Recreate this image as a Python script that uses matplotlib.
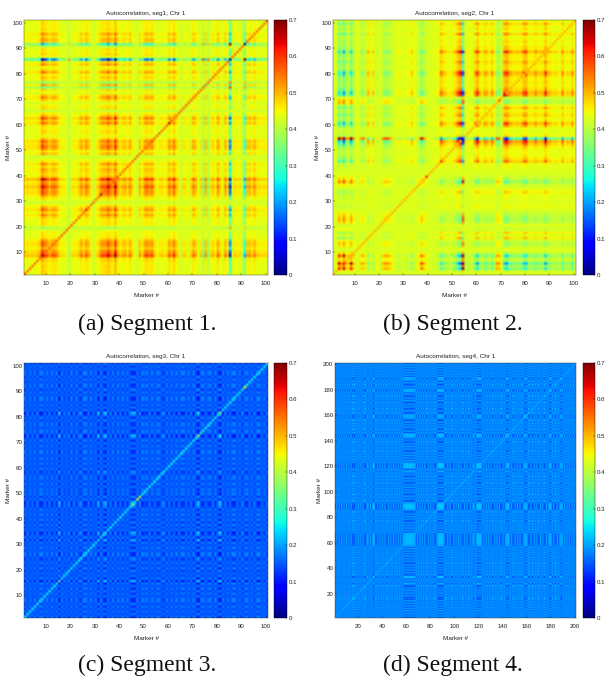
import matplotlib
matplotlib.use("Agg")
import matplotlib.pyplot as plt
import numpy as np

# Per-marker loading; cell = base + a_i * a_j, diagonal read separately
profile_a = [
 .12,.14,.12,.14,.12,.16,.2,.52,.38,.32,.2,.3,.32,.26,.12,.1,.1,.04,-.12,.1,
 .12,.1,.16,.28,.16,.32,.22,.1,-.04,.1,.16,.3,.34,.32,.48,.34,.26,.55,.22,.14,
 .2,.22,.14,.28,.12,.05,-.03,.22,.12,.3,.34,.26,.34,.16,.05,.12,.14,.1,.12,.32,
 .2,.38,.18,.1,-.04,.14,.1,.02,.14,.28,.18,.04,.14,-.2,.22,-.15,.12,.18,.1,.3,
 .14,.06,.26,.14,-.8,.03,.14,.1,.12,-.04,-.45,.2,.22,.14,.26,.12,.12,.1,.12,.1]
profile_b = [
 .02,-.06,-.42,-.2,-.55,-.14,-.14,-.46,-.14,.0,.0,-.12,-.16,-.06,.18,.0,.14,-.04,-.04,.03,
 -.12,-.2,-.18,-.12,-.06,.0,.05,.06,.0,.03,.05,.05,.15,.05,-.03,-.08,-.3,-.14,-.05,.0,
 .0,.03,.05,.06,.32,.18,.12,.08,.08,.12,.2,.38,.5,-.75,.12,.05,.05,.05,.26,.42,
 .16,.1,.24,.18,.1,.26,.1,-.2,-.16,-.04,.36,.45,.26,.2,.14,.18,.16,.18,.36,.4,
 .16,.14,.16,.26,.14,.16,.18,.44,.18,.16,.1,.14,.1,.08,.28,.08,.14,.1,.26,.08]
profile_c = [
 .14,-.1,.12,-.06,.15,-.12,.16,.18,-.08,.14,-.1,.18,-.06,.18,-.34,.18,-.1,.06,-.14,.18,
 -.12,.14,-.08,-.16,.18,.18,-.1,.18,-.06,.14,-.3,.18,-.12,-.3,.14,-.1,.18,-.14,.18,-.08,
 .18,-.06,.14,-.12,-.22,-.24,.14,-.14,.18,.06,.14,-.1,.18,-.06,.12,.14,-.08,-.16,.18,-.1,
 .14,-.06,.18,-.08,.12,.18,-.06,.14,-.1,.18,-.08,-.34,.1,.18,-.06,.12,.14,-.12,.18,-.12,
 -.34,.18,-.1,.14,-.06,.18,.18,-.08,.14,-.16,.1,.18,-.08,.12,-.12,.14,.18,-.06,.12,-.08]
profile_d = [
 .12,-.08,.15,-.1,.16,-.13,.12,-.06,.15,-.1,.16,-.06,.14,-.1,.15,.12,.17,-.08,.14,-.1,
 .16,-.1,.14,-.06,.15,.17,-.1,-.12,.14,-.1,.16,-.16,-.22,.12,.15,-.08,.17,-.1,.14,-.06,
 .16,-.1,.14,.17,-.1,.15,-.08,.17,-.12,.14,-.06,.17,-.1,.15,-.08,.16,-.12,-.14,-.18,-.2,
 -.19,-.15,-.2,-.18,-.14,-.17,-.12,.16,-.1,.17,-.12,.15,-.08,.17,-.1,.14,.17,-.08,.15,-.1,
 .17,-.1,.14,.17,-.08,-.14,-.24,-.2,-.26,-.15,-.1,.17,.14,-.08,.16,-.12,.15,.17,-.1,.14,
 -.08,.16,-.12,.15,-.1,.17,.14,-.08,.16,-.1,.14,.17,-.08,.14,-.1,-.12,.16,-.14,-.2,-.18,
 -.22,-.14,.14,-.1,.17,-.12,.15,-.08,.16,-.1,.17,.14,-.08,.15,-.12,.16,-.1,.17,.14,-.06,
 .15,-.1,-.12,-.22,-.12,.16,-.1,.14,.17,-.1,.15,-.08,.16,-.12,.14,.17,-.08,-.12,-.16,-.1,
 .15,.17,-.1,.14,.17,-.1,.15,-.08,.16,.17,-.12,.14,-.08,.16,.17,-.1,.14,-.12,-.18,-.12,
 .16,-.1,.15,.17,-.12,.14,-.08,-.12,-.2,.16,-.1,.15,-.08,.14,-.1,.14,-.08,.12,-.1,.1]
base_a, base_b, base_c, base_d = 0.425, 0.43, 0.15, 0.18
diag_a, diag_b, diag_c, diag_d = 0.55, 0.50, 0.25, 0.22
peaks_a = {8: .68, 32: .66, 35: .66, 26: .62, 53: .6, 60: .66, 85: .0, 91: .02}
peaks_b = {3: .62, 5: .62, 45: .6, 54: .05, 71: .65, 39: .6, 69: .58}
peaks_c = {91: .43, 47: .42, 48: .41, 72: .38, 45: .34, 15: .34, 81: .34}
peaks_d = {}

titles = ["Autocorrelation, seg1, Chr 1", "Autocorrelation, seg2, Chr 1",
          "Autocorrelation, seg3, Chr 1", "Autocorrelation, seg4, Chr 1"]
captions = ["(a) Segment 1.", "(b) Segment 2.", "(c) Segment 3.", "(d) Segment 4."]
ticks_100 = list(range(10, 101, 10))
ticks_200 = list(range(20, 201, 20))
cbar_ticks = [0, .1, .2, .3, .4, .5, .6, .7]
cbar_labels = ["0", "0.1", "0.2", "0.3", "0.4", "0.5", "0.6", "0.7"]

W, H = 614, 687
plt.rcParams['font.family'] = ['Liberation Sans', 'DejaVu Sans']
fig = plt.figure(figsize=(W/100, H/100), dpi=100)

def box(x0, y0, x1, y1):
    return [x0/W, 1-y1/H, (x1-x0)/W, (y1-y0)/H]

def panel(rect, crect, prof, base, diag, peaks, ticks, title, caption, cx, cy):
    a = np.array(prof)
    n = len(a)
    m = base + np.outer(a, a)
    m[np.arange(n), np.arange(n)] = diag
    for k, v in peaks.items():
        m[k-1, k-1] = v
    ax = fig.add_axes(box(*rect))
    im = ax.imshow(m, origin='lower', extent=(1, n+1, 1, n+1), aspect='auto',
                   cmap='jet', vmin=0, vmax=.7, interpolation='bilinear')
    ax.set_xticks(ticks); ax.set_yticks(ticks)
    ax.tick_params(direction='in', length=1.5, width=.3, labelsize=4.4, colors='#222222')
    ax.tick_params(axis='x', pad=4.2)
    ax.tick_params(axis='y', pad=1.2)
    for s in ax.spines.values():
        s.set_linewidth(.3); s.set_color('#333333')
    ax.set_title(title, fontsize=4.6, pad=3.5, color='#222222')
    ax.set_xlabel("Marker #", fontsize=4.6, color='#222222')
    ax.set_ylabel("Marker #", fontsize=4.6, color='#222222')
    ax.xaxis.set_label_coords(.5, -18/255)
    ax.yaxis.set_label_coords(-13/244, .5)
    cax = fig.add_axes(box(*crect))
    cb = fig.colorbar(im, cax=cax)
    cb.set_ticks(cbar_ticks, labels=cbar_labels)
    cb.ax.tick_params(direction='in', length=1.5, width=.3, labelsize=4.4, pad=1, colors='#222222')
    cb.outline.set_linewidth(.3)
    fig.text(cx/W, 1-cy/H, caption, family='Liberation Serif', fontsize=17,
             ha='center', va='center', color='#111111')

panel((24, 20, 268, 275), (274, 20, 287, 275), profile_a, base_a, diag_a, peaks_a,
      ticks_100, titles[0], captions[0], 147, 324)
panel((333, 20, 576, 275), (583, 20, 595, 275), profile_b, base_b, diag_b, peaks_b,
      ticks_100, titles[1], captions[1], 453, 324)
panel((24, 363, 268, 618), (274, 363, 287, 618), profile_c, base_c, diag_c, peaks_c,
      ticks_100, titles[2], captions[2], 147, 665)
panel((335, 363, 576, 618), (583, 363, 595, 618), profile_d, base_d, diag_d, peaks_d,
      ticks_200, titles[3], captions[3], 453, 665)
fig.savefig("out.png", dpi=100)
